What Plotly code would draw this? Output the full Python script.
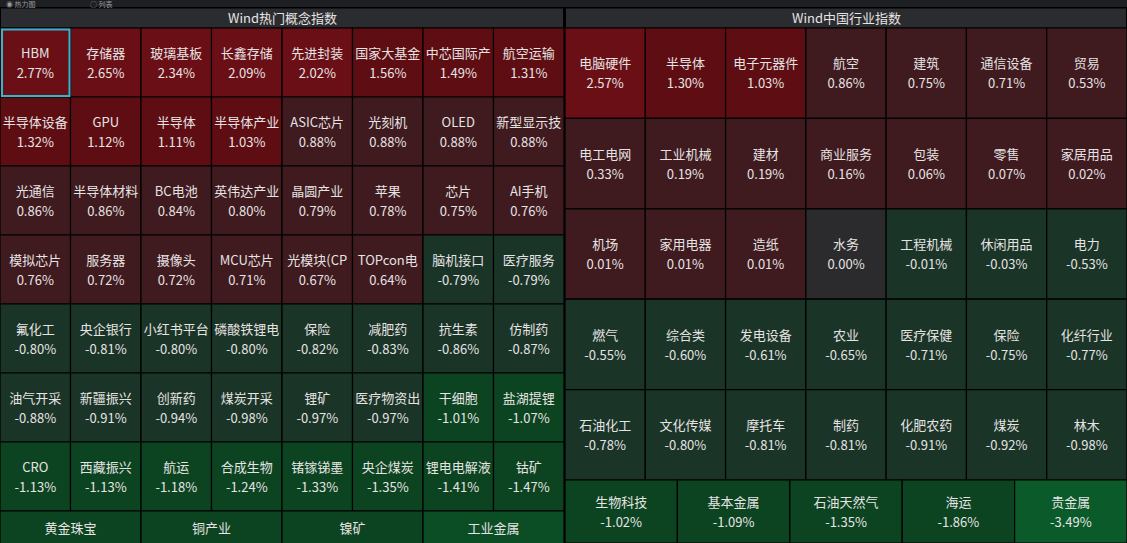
import plotly.graph_objects as go

# ---------------- data ----------------
concept_names = [
    "HBM", "存储器", "玻璃基板", "长鑫存储", "先进封装", "国家大基金", "中芯国际产", "航空运输",
    "半导体设备", "GPU", "半导体", "半导体产业", "ASIC芯片", "光刻机", "OLED", "新型显示技",
    "光通信", "半导体材料", "BC电池", "英伟达产业", "晶圆产业", "苹果", "芯片", "AI手机",
    "模拟芯片", "服务器", "摄像头", "MCU芯片", "光模块(CP", "TOPcon电", "脑机接口", "医疗服务",
    "氟化工", "央企银行", "小红书平台", "磷酸铁锂电", "保险", "减肥药", "抗生素", "仿制药",
    "油气开采", "新疆振兴", "创新药", "煤炭开采", "锂矿", "医疗物资出", "干细胞", "盐湖提锂",
    "CRO", "西藏振兴", "航运", "合成生物", "锗镓锑墨", "央企煤炭", "锂电电解液", "钴矿",
    "黄金珠宝", "铜产业", "镍矿", "工业金属",
]
concept_values = [
    2.77, 2.65, 2.34, 2.09, 2.02, 1.56, 1.49, 1.31,
    1.32, 1.12, 1.11, 1.03, 0.88, 0.88, 0.88, 0.88,
    0.86, 0.86, 0.84, 0.80, 0.79, 0.78, 0.75, 0.76,
    0.76, 0.72, 0.72, 0.71, 0.67, 0.64, -0.79, -0.79,
    -0.80, -0.81, -0.80, -0.80, -0.82, -0.83, -0.86, -0.87,
    -0.88, -0.91, -0.94, -0.98, -0.97, -0.97, -1.01, -1.07,
    -1.13, -1.13, -1.18, -1.24, -1.33, -1.35, -1.41, -1.47,
    -1.52, -1.58, -1.66, -2.05,
]
industry_names = [
    "电脑硬件", "半导体", "电子元器件", "航空", "建筑", "通信设备", "贸易",
    "电工电网", "工业机械", "建材", "商业服务", "包装", "零售", "家居用品",
    "机场", "家用电器", "造纸", "水务", "工程机械", "休闲用品", "电力",
    "燃气", "综合类", "发电设备", "农业", "医疗保健", "保险", "化纤行业",
    "石油化工", "文化传媒", "摩托车", "制药", "化肥农药", "煤炭", "林木",
    "生物科技", "基本金属", "石油天然气", "海运", "贵金属",
]
industry_values = [
    2.57, 1.30, 1.03, 0.86, 0.75, 0.71, 0.53,
    0.33, 0.19, 0.19, 0.16, 0.06, 0.07, 0.02,
    0.01, 0.01, 0.01, 0.00, -0.01, -0.03, -0.53,
    -0.55, -0.60, -0.61, -0.65, -0.71, -0.75, -0.77,
    -0.78, -0.80, -0.81, -0.81, -0.91, -0.92, -0.98,
    -1.02, -1.09, -1.35, -1.86, -3.49,
]
panel_titles = ["Wind热门概念指数", "Wind中国行业指数"]
view_tabs = ["◉ 热力图", "○ 列表"]

# ---------------- layout ----------------
W, H = 1127, 543
TEXT = "#e6e3e3"
FONT = "Noto Sans CJK SC, Noto Sans, sans-serif"


def cell_color(v):
    if v >= 2:
        return "#6b0f16"
    if v >= 1:
        return "#5e0e13"
    if v > 0:
        return "#3f1a1f"
    if v == 0:
        return "#2b2b2d"
    if v > -1:
        return "#1a3427"
    if v > -2:
        return "#0c4321"
    if v > -3:
        return "#0b4e25"
    return "#0a5b29"


def grid(n, x0, x1, top, row_counts, row_heights):
    xs, ws, bases, hs = [], [], [], []
    y = top
    k = 0
    for cnt, rh in zip(row_counts, row_heights):
        cw = (x1 - x0) / cnt
        for c in range(cnt):
            if k >= n:
                break
            xs.append(x0 + cw * (c + 0.5))
            ws.append(cw)
            bases.append(y)
            hs.append(rh)
            k += 1
        y += rh
    return xs, ws, bases, hs


panels = [
    dict(names=concept_names, values=concept_values, x0=0, x1=564, top=28,
         rows=[8] * 7 + [4], heights=[69] * 7 + [54]),
    dict(names=industry_names, values=industry_values, x0=565, x1=W, top=28,
         rows=[7] * 5 + [5], heights=[90.4] * 5 + [63]),
]

fig = go.Figure()
shapes = []
annotations = []

# top strip and headers
shapes.append(dict(type="rect", xref="x", yref="y", x0=0, x1=W, y0=0, y1=7,
                   fillcolor="#1d1f23", line=dict(width=0), layer="below"))
for p, title in zip(panels, panel_titles):
    shapes.append(dict(type="rect", xref="x", yref="y", x0=p["x0"] + 1, x1=p["x1"] - 1,
                       y0=8.5, y1=27.5, fillcolor="#2b2c2f", line=dict(width=0), layer="below"))
    annotations.append(dict(x=(p["x0"] + p["x1"]) / 2, y=17.5, xref="x", yref="y", text=title,
                            showarrow=False, font=dict(size=13, color=TEXT, family=FONT)))

for i, tab in enumerate(view_tabs):
    annotations.append(dict(x=4 + 84 * i, y=3.5, xref="x", yref="y", text=tab, xanchor="left",
                            yanchor="middle", showarrow=False,
                            font=dict(size=7, color="#9a9a9a", family=FONT)))

for p in panels:
    xs, ws, bases, hs = grid(len(p["values"]), p["x0"], p["x1"], p["top"], p["rows"], p["heights"])
    colors = [cell_color(v) for v in p["values"]]
    fig.add_trace(go.Bar(
        x=xs, y=hs, base=bases, width=ws,
        marker=dict(color=colors, line=dict(color="#000000", width=1.2)),
        hoverinfo="skip", showlegend=False,
    ))
    centers = [b + h / 2 for b, h in zip(bases, hs)]
    fig.add_trace(go.Scatter(
        x=xs, y=[c - 8 for c in centers], mode="text", text=p["names"],
        textfont=dict(size=13, color=TEXT, family=FONT), hoverinfo="skip", showlegend=False,
    ))
    # value labels (only those that fall inside the visible view)
    vx, vy, vt = [], [], []
    for x, c, v in zip(xs, centers, p["values"]):
        if c + 12 + 7 <= H:
            vx.append(x)
            vy.append(c + 12)
            vt.append(f"{v:.2f}%")
    fig.add_trace(go.Scatter(
        x=vx, y=vy, mode="text", text=vt,
        textfont=dict(size=13, color=TEXT, family=FONT), hoverinfo="skip", showlegend=False,
    ))

# highlight first concept cell
xs0, ws0, b0, h0 = grid(1, panels[0]["x0"], panels[0]["x1"], panels[0]["top"],
                        panels[0]["rows"], panels[0]["heights"])
shapes.append(dict(type="rect", xref="x", yref="y",
                   x0=xs0[0] - ws0[0] / 2 + 2, x1=xs0[0] + ws0[0] / 2 - 1,
                   y0=b0[0] + 1.5, y1=b0[0] + h0[0] - 1,
                   line=dict(color="#33b4cf", width=2)))

fig.update_layout(
    width=W, height=H, margin=dict(l=0, r=0, t=0, b=0),
    paper_bgcolor="#000000", plot_bgcolor="#000000",
    barmode="overlay", shapes=shapes, annotations=annotations,
    xaxis=dict(range=[0, W], visible=False, fixedrange=True),
    yaxis=dict(range=[H, 0], visible=False, fixedrange=True),
    showlegend=False,
)

fig.write_html("out.html")
